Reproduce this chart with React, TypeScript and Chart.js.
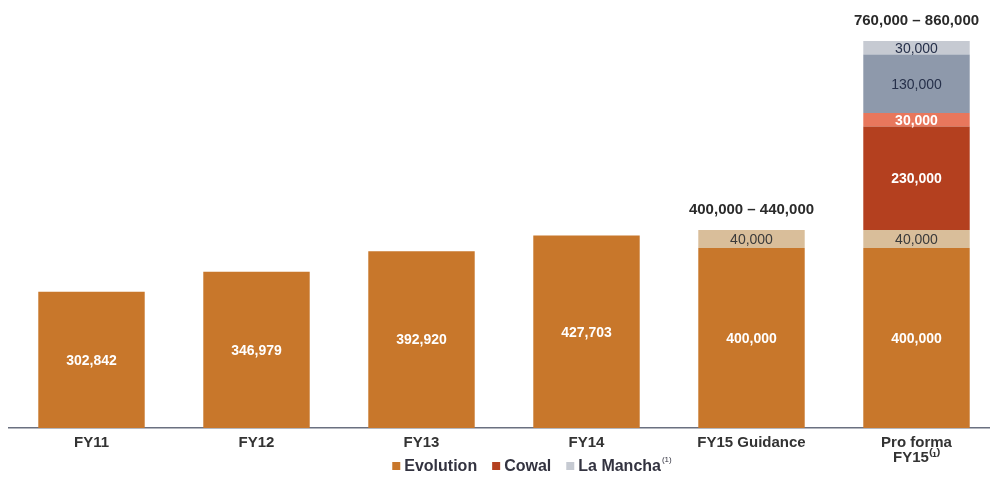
import React, { useEffect, useRef } from "react";
import { Chart, registerables } from "chart.js";

Chart.register(...registerables);

const categories: (string | string[])[] = ["FY11", "FY12", "FY13", "FY14", "FY15 Guidance", ["Pro forma", "FY15⁽¹⁾"]];
const evolution = [302842, 346979, 392920, 427703, 400000, 400000];
const evolutionRange = [null, null, null, null, 40000, 40000];
const cowal = [null, null, null, null, null, 230000];
const cowalRange = [null, null, null, null, null, 30000];
const laMancha = [null, null, null, null, null, 130000];
const laManchaRange = [null, null, null, null, null, 30000];
const rangeLabels = ["", "", "", "", "400,000 – 440,000", "760,000 – 860,000"];

const legendItems = [
  { label: "Evolution", sup: "", color: "#C8772B" },
  { label: "Cowal", sup: "", color: "#B4401F" },
  { label: "La Mancha", sup: "(1)", color: "#C6CAD2" },
];

const labelColors = ["#FFFFFF", "#3A3A3A", "#FFFFFF", "#FFFFFF", "#26304A", "#26304A"];
const labelBold = [true, false, true, true, false, false];

const FONT = "'Liberation Sans', Arial, sans-serif";

const labelsPlugin = {
  id: "customLabels",
  afterDatasetsDraw(chart: any) {
    const ctx = chart.ctx;
    ctx.save();
    ctx.textAlign = "center";
    ctx.textBaseline = "middle";
    chart.data.datasets.forEach((ds: any, di: number) => {
      const meta = chart.getDatasetMeta(di);
      meta.data.forEach((el: any, i: number) => {
        const v = ds.data[i];
        if (v == null) return;
        ctx.fillStyle = labelColors[di];
        ctx.font = `${labelBold[di] ? "bold " : ""}14px ${FONT}`;
        const y = (el.y + el.base) / 2;
        ctx.fillText(v.toLocaleString("en-US"), el.x, y + 1);
      });
    });
    // range labels above stacks
    rangeLabels.forEach((txt, i) => {
      if (!txt) return;
      let topY = Infinity;
      let x = 0;
      chart.data.datasets.forEach((ds: any, di: number) => {
        if (ds.data[i] == null) return;
        const el = chart.getDatasetMeta(di).data[i];
        if (el.y < topY) {
          topY = el.y;
          x = el.x;
        }
      });
      ctx.fillStyle = "#2A2A2A";
      ctx.font = `bold 15px ${FONT}`;
      ctx.fillText(txt, x, topY - 20);
    });
    // legend
    ctx.textAlign = "left";
    const mainFont = `bold 16px ${FONT}`;
    const supFont = `8px ${FONT}`;
    const sq = 8;
    const gapSq = 4;
    const gapItem = 15;
    let total = 0;
    const widths = legendItems.map((it) => {
      ctx.font = mainFont;
      let w = sq + gapSq + ctx.measureText(it.label).width;
      if (it.sup) {
        ctx.font = supFont;
        w += 1 + ctx.measureText(it.sup).width;
      }
      total += w;
      return w;
    });
    total += gapItem * (legendItems.length - 1);
    let lx = 532 - total / 2;
    const ly = 466;
    legendItems.forEach((it, k) => {
      ctx.fillStyle = it.color;
      ctx.fillRect(lx, ly - sq / 2, sq, sq);
      ctx.fillStyle = "#333340";
      ctx.font = mainFont;
      ctx.fillText(it.label, lx + sq + gapSq, ly + 1);
      if (it.sup) {
        const tw = ctx.measureText(it.label).width;
        ctx.font = supFont;
        ctx.fillText(it.sup, lx + sq + gapSq + tw + 1, ly - 6);
      }
      lx += widths[k] + gapItem;
    });
    ctx.restore();
  },
};

export default function App() {
  const ref = useRef<HTMLCanvasElement>(null);
  useEffect(() => {
    if (!ref.current) return;
    const mk = (label: string, data: any[], color: string) => ({
      label,
      data,
      backgroundColor: color,
      borderWidth: 0,
      barPercentage: 0.645,
      categoryPercentage: 1,
      stack: "s",
    });
    const chart = new Chart(ref.current, {
      type: "bar",
      data: {
        labels: categories as any,
        datasets: [
          mk("Evolution", evolution, "#C8772B"),
          mk("Evolution range", evolutionRange, "#D9BE9A"),
          mk("Cowal", cowal, "#B4401F"),
          mk("Cowal range", cowalRange, "#E8775C"),
          mk("La Mancha", laMancha, "#8E99AB"),
          mk("La Mancha range", laManchaRange, "#C6CAD2"),
        ],
      },
      options: {
        responsive: false,
        animation: false,
        layout: { padding: { left: 9, right: 1, top: 32, bottom: 0 } },
        plugins: { legend: { display: false }, tooltip: { enabled: false } },
        scales: {
          x: {
            stacked: true,
            grid: { display: false },
            border: { display: true, color: "#6A7080", width: 1.5 },
            ticks: {
              color: "#333333",
              font: { family: FONT, size: 15, weight: "bold", lineHeight: 1.0 },
              padding: -1,
              maxRotation: 0,
              autoSkip: false,
            },
            afterFit: (scale: any) => {
              scale.height = 60;
            },
          },
          y: {
            stacked: true,
            display: false,
            min: 0,
            max: 880000,
          },
        },
      },
      plugins: [labelsPlugin],
    } as any);
    return () => chart.destroy();
  }, []);
  return (
    <div style={{ position: "fixed", left: 0, top: 0, width: 990, height: 488, overflow: "hidden", background: "#fff" }}>
      <canvas ref={ref} width={1000} height={488} style={{ display: "block", width: 1000, height: 488 }} />
    </div>
  );
}
